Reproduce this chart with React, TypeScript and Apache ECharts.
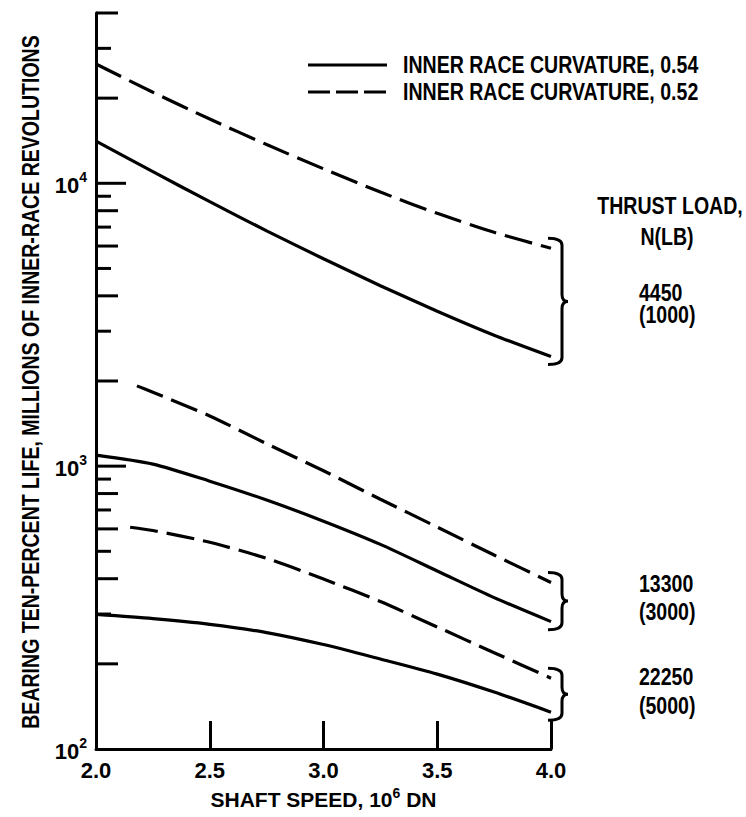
import React, { useEffect, useRef } from "react";
import * as echarts from "echarts";

// ---- data ----
const speeds = [2.0, 2.25, 2.5, 2.75, 3.0, 3.25, 3.5, 3.75, 4.0];
const solid4450 = [14100, 10990, 8610, 6790, 5410, 4345, 3530, 2904, 2440];
const dashed4450 = [26400, 20990, 16870, 13710, 11250, 9310, 7830, 6710, 5890];
const solid13300 = [1094, 1017, 885, 759, 639, 529, 426, 343, 282];
const dashed13300Speeds = [2.18, 2.25, 2.5, 2.75, 3.0, 3.25, 3.5, 3.75, 4.0];
const dashed13300 = [1922, 1825, 1505, 1200, 963, 764, 609, 485, 388];
const solid22250 = [299, 289, 276, 258, 234, 208, 184, 159, 135];
const dashed22250Speeds = [2.15, 2.25, 2.5, 2.75, 3.0, 3.25, 3.5, 3.75, 4.0];
const dashed22250 = [608, 592, 538, 472, 399, 332, 270, 219, 178];

const xTickLabels = ["2.0", "2.5", "3.0", "3.5", "4.0"];
const loadHeader = ["THRUST LOAD,", "N(LB)"];
const loadLabels = [
  ["4450", "(1000)"],
  ["13300", "(3000)"],
  ["22250", "(5000)"],
];
const legendNames = ["INNER RACE CURVATURE, 0.54", "INNER RACE CURVATURE, 0.52"];
const yTitle = "BEARING TEN-PERCENT LIFE, MILLIONS OF INNER-RACE REVOLUTIONS";
const yMinorMantissas = [2, 3, 4, 5, 6, 7, 8, 9];
const yDecades = [100, 1000, 10000];
const yMax = 40000;

const FONT = "'Liberation Sans', Arial, 'DejaVu Sans', sans-serif";
const SX = 0.85; // condensed look

function pairs(xs: number[], ys: number[]) {
  return xs.map((x, i) => [x, ys[i]]);
}

export default function App() {
  const ref = useRef<HTMLDivElement>(null);

  useEffect(() => {
    document.body.style.margin = "0";
    const chart = echarts.init(ref.current!, null, { renderer: "svg" });

    const tickVals: number[][] = [];
    yDecades.forEach((d) => {
      if (d > 100) tickVals.push([2.0, d, 1]);
      yMinorMantissas.forEach((m) => {
        const v = m * d;
        if (v <= yMax) tickVals.push([2.0, v, m]);
      });
    });

    const last = (a: number[]) => a[a.length - 1];
    const braceData = [
      [4.0, last(solid4450), last(dashed4450)],
      [4.0, last(solid13300), last(dashed13300)],
      [4.0, last(solid22250), last(dashed22250)],
    ];

    const lineW = 3.2;
    const dash = [28, 9];
    const solidStyle = { color: "#000", width: lineW, type: "solid" as const };
    const dashStyle = { color: "#000", width: lineW, type: dash };

    const mkLine = (name: string, data: number[][], dashed: boolean) => ({
      type: "line",
      name,
      data,
      smooth: 0.25,
      symbol: "none",
      showSymbol: false,
      lineStyle: dashed ? dashStyle : solidStyle,
      itemStyle: { color: "#000" },
      z: 3,
    });

    const txt = (text: string, x: number, y: number, align: string, size = 23, extra: any = {}) => ({
      type: "text",
      x,
      y,
      scaleX: SX,
      style: {
        text,
        fill: "#000",
        font: `bold ${size}px ${FONT}`,
        textAlign: align,
        textVerticalAlign: "middle",
      },
      ...extra,
    });

    const labelYs = [
      [293, 315],
      [584, 612],
      [677, 706],
    ];

    const graphic: any[] = [
      // y-axis title
      {
        type: "text",
        x: 31,
        y: 382,
        rotation: Math.PI / 2,
        scaleX: SX,
        style: {
          text: yTitle,
          fill: "#000",
          font: `bold 23px ${FONT}`,
          textAlign: "center",
          textVerticalAlign: "middle",
        },
      },
      // legend
      {
        type: "line",
        shape: { x1: 308, y1: 65, x2: 387, y2: 65 },
        style: { stroke: "#000", lineWidth: 3 },
      },
      {
        type: "line",
        shape: { x1: 308, y1: 92, x2: 387, y2: 92 },
        style: { stroke: "#000", lineWidth: 3, lineDash: [22, 6] },
      },
      txt(legendNames[0], 403, 65, "left"),
      txt(legendNames[1], 403, 92, "left"),
      // thrust load header & group labels
      txt(loadHeader[0], 670, 206, "center"),
      txt(loadHeader[1], 667, 237, "center"),
      ...loadLabels.flatMap((pair, i) =>
        pair.map((t, j) => txt(t, 639, labelYs[i][j], "left"))
      ),
    ];

    const option: any = {
      animation: false,
      backgroundColor: "#fff",
      grid: { left: 96, right: 195, top: 13, bottom: 68 },
      xAxis: {
        type: "value",
        min: 2,
        max: 4,
        interval: 0.5,
        axisLine: { onZero: false, lineStyle: { color: "#000", width: 3 } },
        axisTick: { inside: true, length: 28, lineStyle: { color: "#000", width: 3 } },
        splitLine: { show: false },
        axisLabel: {
          color: "#000",
          fontSize: 22,
          fontWeight: "bold",
          fontFamily: FONT,
          margin: 10,
          formatter: (v: number) => {
            const idx = Math.round((v - 2) / 0.5);
            return xTickLabels[idx] ?? "";
          },
        },
        name: "{a|SHAFT SPEED, 10}{s|6}{a| DN}",
        nameLocation: "middle",
        nameGap: 33,
        nameTextStyle: {
          rich: {
            a: { fontSize: 21, fontWeight: "bold", fontFamily: FONT, color: "#000", lineHeight: 24, verticalAlign: "bottom" },
            s: { fontSize: 14, fontWeight: "bold", fontFamily: FONT, color: "#000", lineHeight: 12, verticalAlign: "top" },
          },
        },
      },
      yAxis: {
        type: "log",
        logBase: 10,
        min: 100,
        max: yMax,
        axisLine: { show: true, onZero: false, lineStyle: { color: "#000", width: 3 } },
        axisTick: { show: false },
        splitLine: { show: false },
        minorTick: { show: false },
        axisLabel: {
          showMaxLabel: false,
          margin: 9,
          formatter: (v: number) => {
            const e = Math.round(Math.log10(v));
            if (Math.abs(Math.pow(10, e) - v) > 1e-6 * v) return "";
            return "{b|10}{s|" + e + "}";
          },
          rich: {
            b: { fontSize: 22, fontWeight: "bold", fontFamily: FONT, color: "#000", lineHeight: 26, verticalAlign: "bottom" },
            s: { fontSize: 14, fontWeight: "bold", fontFamily: FONT, color: "#000", lineHeight: 14, verticalAlign: "top" },
          },
        },
      },
      graphic,
      series: [
        mkLine(legendNames[0], pairs(speeds, solid4450), false),
        mkLine(legendNames[1], pairs(speeds, dashed4450), true),
        mkLine(legendNames[0], pairs(speeds, solid13300), false),
        mkLine(legendNames[1], pairs(dashed13300Speeds, dashed13300), true),
        mkLine(legendNames[0], pairs(speeds, solid22250), false),
        mkLine(legendNames[1], pairs(dashed22250Speeds, dashed22250), true),
        {
          type: "custom",
          name: "ticks",
          coordinateSystem: "cartesian2d",
          data: tickVals,
          clip: false,
          silent: true,
          renderItem: (params: any, api: any) => {
            const p = api.coord([api.value(0), api.value(1)]);
            const m = api.value(2);
            const len = m === 1 ? 30 : m % 2 === 0 ? 22 : 15;
            return {
              type: "line",
              shape: { x1: p[0], y1: p[1], x2: p[0] + len, y2: p[1] },
              style: { stroke: "#000", lineWidth: 3 },
            };
          },
          z: 4,
        },
        {
          type: "custom",
          name: "braces",
          coordinateSystem: "cartesian2d",
          data: braceData,
          clip: false,
          silent: true,
          renderItem: (params: any, api: any) => {
            const lo = api.coord([api.value(0), api.value(1)]);
            const hi = api.coord([api.value(0), api.value(2)]);
            const x0 = lo[0] - 3;
            const x1 = lo[0] + 11;
            const x2 = lo[0] + 17;
            const yT = hi[1] - 10;
            const yB = lo[1] + 8;
            const yM = (yT + yB) / 2;
            const r = 7;
            const d =
              `M${x0} ${yT} Q${x1} ${yT} ${x1} ${yT + r} L${x1} ${yM - r} Q${x1} ${yM} ${x2} ${yM} ` +
              `Q${x1} ${yM} ${x1} ${yM + r} L${x1} ${yB - r} Q${x1} ${yB} ${x0} ${yB}`;
            return {
              type: "path",
              shape: { pathData: d },
              style: { stroke: "#000", lineWidth: 3, fill: "none" },
            };
          },
          z: 4,
        },
      ],
    };

    chart.setOption(option);
    return () => chart.dispose();
  }, []);

  return <div ref={ref} style={{ width: 746, height: 817 }} />;
}
